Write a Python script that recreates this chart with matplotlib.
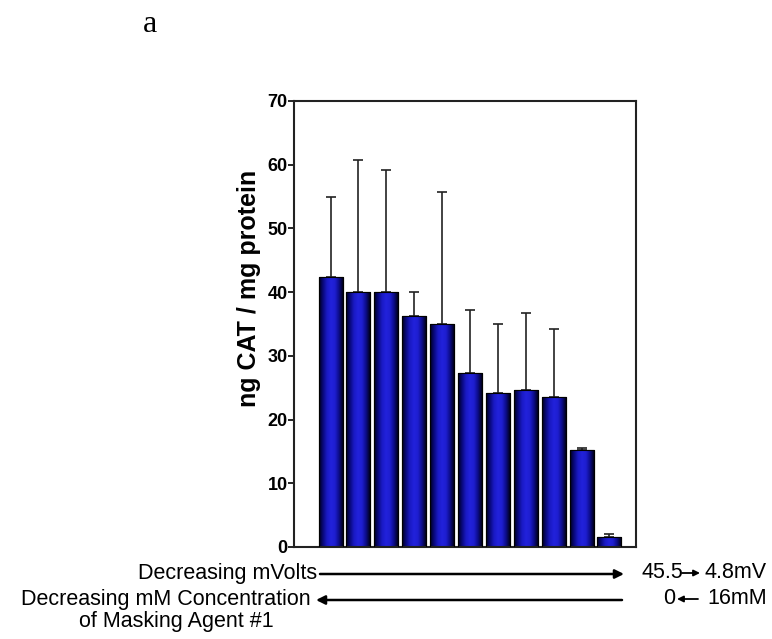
import numpy as np
import matplotlib
matplotlib.use("Agg")
import matplotlib.pyplot as plt
from matplotlib.colors import LinearSegmentedColormap
from matplotlib.patches import FancyArrowPatch

# Data
values = [42.3, 40.0, 40.0, 36.3, 35.0, 27.3, 24.1, 24.7, 23.5, 15.2, 1.6]
errors = [12.6, 20.7, 19.1, 3.7, 20.7, 9.9, 10.9, 12.1, 10.7, 0.3, 0.4]
yticks = [0, 10, 20, 30, 40, 50, 60, 70]
ylabel = "ng CAT / mg protein"
panel_label = "a"
row1_label = "Decreasing mVolts"
row1_end = ("45.5", "4.8mV")
row2_label = ["Decreasing mM Concentration", "of Masking Agent #1"]
row2_end = ("0", "16mM")

plt.rcParams['font.family'] = ['Liberation Sans', 'DejaVu Sans']

fig = plt.figure(figsize=(7.72, 6.39), dpi=100)
ax = fig.add_axes([0.3808, 0.144, 0.443, 0.698])

x = np.arange(len(values))
bars = ax.bar(x, values, width=0.86, color='#1a1ac8', edgecolor='black',
              linewidth=0.8, zorder=2)

# gradient shading inside each bar
cmap = LinearSegmentedColormap.from_list(
    'barshade', ['#000018', '#08087a', '#1a1ac4', '#2222dc', '#1e1ed0', '#0c0c8a', '#000018'])
grad = np.linspace(0, 1, 256).reshape(1, -1)
for b in bars:
    bx, by = b.get_x(), b.get_y()
    bw, bh = b.get_width(), b.get_height()
    im = ax.imshow(grad, cmap=cmap, aspect='auto',
                   extent=(bx, bx + bw, by, by + bh), zorder=2.5,
                   interpolation='bicubic')
    im.set_clip_path(b)
for b in bars:
    ax.bar(b.get_x() + b.get_width() / 2, b.get_height(), width=b.get_width(),
           fill=False, edgecolor='black', linewidth=0.8, zorder=3)

ax.errorbar(x, values, yerr=[np.zeros(len(errors)), errors], fmt='none',
            ecolor='#222222', elinewidth=1.2, capsize=3.5, capthick=1.2, zorder=1)

ax.set_xlim(-1.31, 10.95)
ax.set_ylim(0, 70)
ax.set_yticks(yticks)
ax.set_yticklabels([str(t) for t in yticks], fontsize=13, fontweight='bold')
ax.set_xticks([])
ax.tick_params(axis='y', direction='out', length=4, width=1.2, pad=0.5)
for s in ax.spines.values():
    s.set_linewidth(1.5)
    s.set_color('#222222')
ax.set_ylabel(ylabel, fontsize=18, fontweight='bold')
ax.yaxis.set_label_coords(-0.095, 0.58)

# panel label
fig.text(150 / 772, 1 - 25 / 639, panel_label, family=['Liberation Serif', 'DejaVu Serif'],
         fontsize=23, ha='center', va='center')

def fx(px):
    return px / 772

def fy(py):
    return 1 - py / 639

def arrow(x0, x1, y, ms, lw):
    fig.add_artist(FancyArrowPatch((fx(x0), fy(y)), (fx(x1), fy(y)),
                                   transform=fig.transFigure, arrowstyle='-|>',
                                   mutation_scale=ms, linewidth=lw, color='black',
                                   shrinkA=0, shrinkB=0))

fs = 15.5
y1, y2, y3 = 573, 599, 621
# row 1
fig.text(fx(317), fy(y1), row1_label, fontsize=fs, ha='right', va='center')
arrow(320, 624, y1 + 1, 13, 1.8)
fig.text(fx(642), fy(y1), row1_end[0], fontsize=fs, ha='left', va='center')
arrow(682, 700, y1, 9, 1.3)
fig.text(fx(767), fy(y1), row1_end[1], fontsize=fs, ha='right', va='center')

# row 2
fig.text(fx(311), fy(y2), row2_label[0], fontsize=fs, ha='right', va='center')
fig.text(fx(176), fy(y3), row2_label[1], fontsize=fs, ha='center', va='center')
arrow(622, 316, y2 + 1, 13, 1.8)
fig.text(fx(663), fy(y2), row2_end[0], fontsize=fs, ha='left', va='center')
arrow(698, 677, y2, 9, 1.3)
fig.text(fx(767), fy(y2), row2_end[1], fontsize=fs, ha='right', va='center')

fig.savefig('out.png', dpi=100)
